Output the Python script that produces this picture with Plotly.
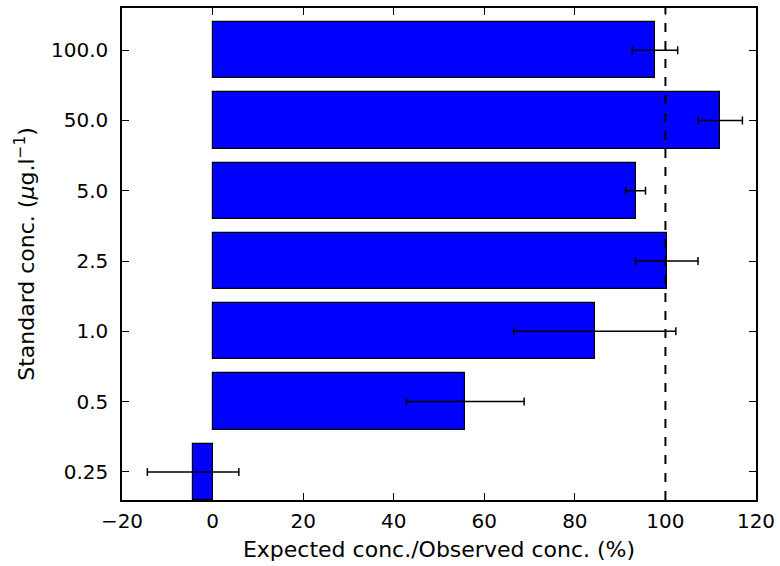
import plotly.graph_objects as go

categories = ["0.25", "0.5", "1.0", "2.5", "5.0", "50.0", "100.0"]
values = [-4.3, 55.8, 84.4, 100.3, 93.4, 112.1, 97.7]
errors = [10.1, 13.0, 17.9, 6.9, 2.2, 4.9, 5.0]
x_ticks = [-20, 0, 20, 40, 60, 80, 100, 120]
ref_line = 100

pos = list(range(len(categories)))

fig = go.Figure()
fig.add_trace(go.Bar(
    x=values, y=pos, orientation="h", width=0.8,
    marker=dict(color="#0000ff", line=dict(color="black", width=1.2)),
    error_x=dict(type="data", array=errors, color="black", thickness=1.5, width=4),
    showlegend=False,
))

fig.add_shape(type="line", x0=ref_line, x1=ref_line, xref="x", y0=0, y1=1, yref="paper",
              line=dict(color="black", width=2, dash="dash"))

tick_font = dict(family="DejaVu Sans", size=20, color="black")
title_font = dict(family="DejaVu Sans", size=22, color="black")
fig.update_layout(
    width=780, height=566,
    margin=dict(l=122, r=24, t=8, b=66, autoexpand=False),
    paper_bgcolor="white", plot_bgcolor="white",
    font=tick_font,
    bargap=0,
)
fig.update_xaxes(
    range=[-20, 120], tickvals=x_ticks, ticks="inside", ticklen=7, tickwidth=1,
    tickcolor="black", mirror="ticks", showline=True, linecolor="black", linewidth=1.5,
    showgrid=False, zeroline=False, automargin=False,
    title=dict(text="Expected conc./Observed conc. (%)", font=title_font, standoff=10),
    tickfont=tick_font, ticklabelstandoff=2,
)
fig.update_yaxes(
    range=[-0.4, 6.6], tickvals=pos, ticktext=categories, ticks="inside", ticklen=7,
    tickwidth=1, tickcolor="black", mirror="ticks", showline=True, linecolor="black",
    linewidth=1.5, showgrid=False, zeroline=False, automargin=False,
    title=dict(text="Standard conc. (<i>μ</i>g.l<sup>−1</sup>)", font=title_font, standoff=10),
    tickfont=tick_font, ticklabelstandoff=8,
)

fig.write_html("out.html")
